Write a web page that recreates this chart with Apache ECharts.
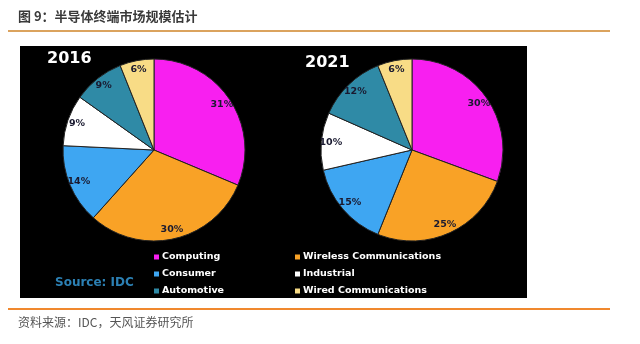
<!DOCTYPE html>
<html><head><meta charset="utf-8">
<script src="https://cdn.jsdelivr.net/npm/echarts@6/dist/echarts.min.js"></script>
<style>html,body{margin:0;padding:0;background:#fff}#c{width:640px;height:344px}</style>
</head><body><div id="c"></div>
<script>
var categories = ['Computing','Wireless Communications','Consumer','Industrial','Automotive','Wired Communications'];
var colors = ['#f81ff0','#f9a226','#3ea6f2','#ffffff','#2f8aa6','#f8dc86'];
var values2016 = [31,30,14,9,9,6];
var values2021 = [30,25,15,10,12,6];
var years = ['2016','2021'];
var legendCol1 = ['Computing','Consumer','Automotive'];
var legendCol2 = ['Wireless Communications','Industrial','Wired Communications'];

function mk(vals){ return categories.map(function(n,i){ return {name:n, value:vals[i], itemStyle:{color:colors[i]}}; }); }
var centers = [[154,150],[412,150]];
var all = [values2016, values2021];
var series = [];
all.forEach(function(vals, k){
  series.push({type:'pie', radius:[0,91], center:centers[k], startAngle:90, clockwise:true, silent:true,
    data: mk(vals), label:{show:false}, labelLine:{show:false},
    itemStyle:{borderColor:'#222', borderWidth:1}});
  series.push({type:'pie', radius:[66,91], center:centers[k], startAngle:90, clockwise:true, silent:true, legendHoverLink:false,
    data: categories.map(function(n,i){return {name:n, value:vals[i]};}),
    itemStyle:{color:'rgba(0,0,0,0)', borderWidth:0},
    label:{show:true, position:'inside', formatter:'{c}%', color:'#1a1a30', fontFamily:'DejaVu Sans', fontWeight:'bold', fontSize:9.5},
    labelLine:{show:false}, emphasis:{disabled:true}});
});

var legendBase = {orient:'vertical', top:247, itemWidth:5, itemHeight:5, itemGap:7, icon:'rect',
  itemStyle:{borderWidth:0},
  textStyle:{color:'#fff', fontFamily:'DejaVu Sans', fontWeight:'bold', fontSize:9.5, padding:[0,0,0,-2]}, selectedMode:false};

var chart = echarts.init(document.getElementById('c'), null, {renderer:'canvas'});
chart.setOption({
  animation:false,
  color: colors,
  graphic:[
    {type:'text', left:18, top:10, style:{text:'图 9：半导体终端市场规模估计', font:'bold 13px "Noto Sans CJK SC"', fill:'#3a3a3a'}},
    {type:'rect', shape:{x:8,y:30,width:602,height:2}, style:{fill:'#dba35e'}},
    {type:'rect', shape:{x:20,y:46,width:507,height:252}, style:{fill:'#000'}, z:-10},
    {type:'text', left:47, top:51, style:{text:years[0], font:'bold 16px "DejaVu Sans"', fill:'#fff'}, z:10},
    {type:'text', left:305, top:55, style:{text:years[1], font:'bold 16px "DejaVu Sans"', fill:'#fff'}, z:10},
    {type:'text', left:55, top:277, style:{text:'Source: IDC', font:'bold 12px "DejaVu Sans"', fill:'#2c80b4'}, z:10},
    {type:'rect', shape:{x:8,y:308,width:602,height:2}, style:{fill:'#f0882e'}},
    {type:'text', left:18, top:316, style:{text:'资料来源：IDC，天风证券研究所', font:'12px "Noto Sans CJK SC"', fill:'#555'}}
  ],
  legend:[
    Object.assign({}, legendBase, {data:legendCol1, left:149}),
    Object.assign({}, legendBase, {data:legendCol2, left:290})
  ],
  series: series
});
</script></body></html>
